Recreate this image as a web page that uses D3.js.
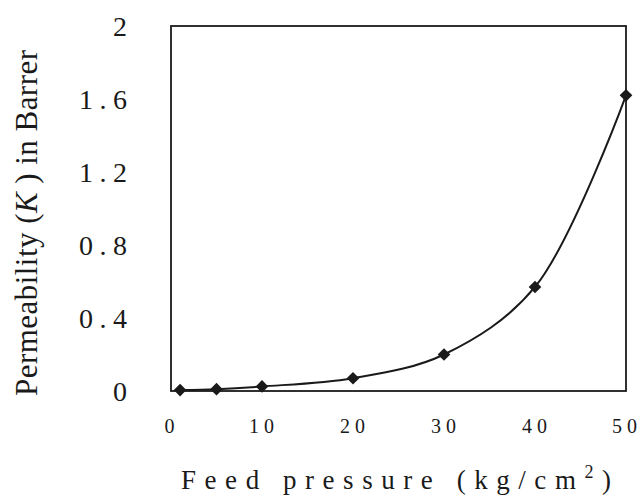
<!DOCTYPE html>
<html lang="en">
<head>
    <meta charset="UTF-8">
    <title>Permeability vs feed pressure</title>
    <script src="https://cdn.jsdelivr.net/npm/d3@7/dist/d3.min.js"></script>
    <style>
        body { margin: 0; background: #fff; }
        svg text { font-family: "Liberation Serif", "Times New Roman", serif; fill: #1a1a1a; }
    </style>
</head>
<body>
    <script>
        // data
        var pressure = [1, 5, 10, 20, 30, 40, 50];
        var permeability = [0.005, 0.01, 0.025, 0.07, 0.2, 0.57, 1.62];
        var xTicks = [0, 10, 20, 30, 40, 50];
        var yTicks = [0, 0.4, 0.8, 1.2, 1.6, 2];
        var yTickLabels = ['0', '0.4', '0.8', '1.2', '1.6', '2'];

        var w = 640, h = 495;
        var mLeft = 171, mRight = 626, mTop = 26, mBottom = 391;

        var xScale = d3.scaleLinear().domain([0, 50]).range([mLeft, mRight]);
        var yScale = d3.scaleLinear().domain([0, 2]).range([mBottom, mTop]);

        var svg = d3.select('body').append('svg')
            .attr('width', w)
            .attr('height', h);

        // frame
        svg.append('rect')
            .attr('x', mLeft).attr('y', mTop)
            .attr('width', mRight - mLeft).attr('height', mBottom - mTop)
            .attr('fill', 'none')
            .attr('stroke', '#1a1a1a')
            .attr('stroke-width', 1.8);

        // y axis (labels only, no ticks)
        var yAxis = d3.axisLeft(yScale)
            .tickValues(yTicks)
            .tickSize(0)
            .tickPadding(0)
            .tickFormat(function(d, i) { return yTickLabels[i]; });

        var gy = svg.append('g')
            .attr('transform', 'translate(127,0)')
            .call(yAxis);
        gy.select('.domain').remove();
        gy.selectAll('text')
            .attr('font-size', '28px')
            .attr('dy', '0.33em')
            .attr('font-family', '"Liberation Serif", serif')
            .attr('fill', '#1a1a1a')
            .each(function(d, i) {
                var t = yTickLabels[i];
                if (t.length > 1) d3.select(this).attr('textLength', 48).attr('lengthAdjust', 'spacing');
            });

        // x axis (labels only)
        var xAxis = d3.axisBottom(xScale)
            .tickValues(xTicks)
            .tickSize(0)
            .tickPadding(0);

        var gx = svg.append('g')
            .attr('transform', 'translate(0,433)')
            .call(xAxis);
        gx.select('.domain').remove();
        gx.selectAll('text')
            .attr('font-size', '20px')
            .attr('dy', 0)
            .attr('y', 0)
            .attr('font-family', '"Liberation Serif", serif')
            .attr('fill', '#1a1a1a')
            .attr('transform', function(d) { return d === 0 ? 'translate(-2,0)' : d === 50 ? 'translate(-2,0)' : 'translate(-1,0)'; })
            .each(function(d) {
                if (d >= 10) d3.select(this).attr('textLength', 25).attr('lengthAdjust', 'spacing');
            });

        // line
        var line = d3.line()
            .x(function(d, i) { return xScale(pressure[i]); })
            .y(function(d) { return yScale(d); })
            .curve(d3.curveCatmullRom.alpha(0.5));

        svg.append('path')
            .datum(permeability)
            .attr('d', line)
            .attr('fill', 'none')
            .attr('stroke', '#1a1a1a')
            .attr('stroke-width', 2);

        // diamond markers
        svg.selectAll('.marker')
            .data(permeability)
            .enter()
            .append('path')
            .attr('class', 'marker')
            .attr('d', d3.symbol().type(d3.symbolSquare).size(80))
            .attr('transform', function(d, i) {
                return 'translate(' + xScale(pressure[i]) + ',' + yScale(d) + ') rotate(45)';
            })
            .attr('fill', '#1a1a1a');

        // axis titles
        svg.append('text')
            .attr('x', 181)
            .attr('y', 489)
            .attr('font-size', '27px')
            .attr('textLength', 430)
            .attr('lengthAdjust', 'spacing')
            .html('Feed pressure (kg/cm<tspan dy="-11" font-size="18px">2</tspan><tspan dy="11">)</tspan>');

        var yTitle = svg.append('text')
            .attr('transform', 'translate(37,396) rotate(-90)')
            .attr('font-size', '31px')
            .attr('textLength', 346)
            .attr('lengthAdjust', 'spacing');
        yTitle.append('tspan').text('Permeability (');
        yTitle.append('tspan').attr('font-style', 'italic').text('K');
        yTitle.append('tspan').text(' ) in Barrer');
    </script>
</body>
</html>
